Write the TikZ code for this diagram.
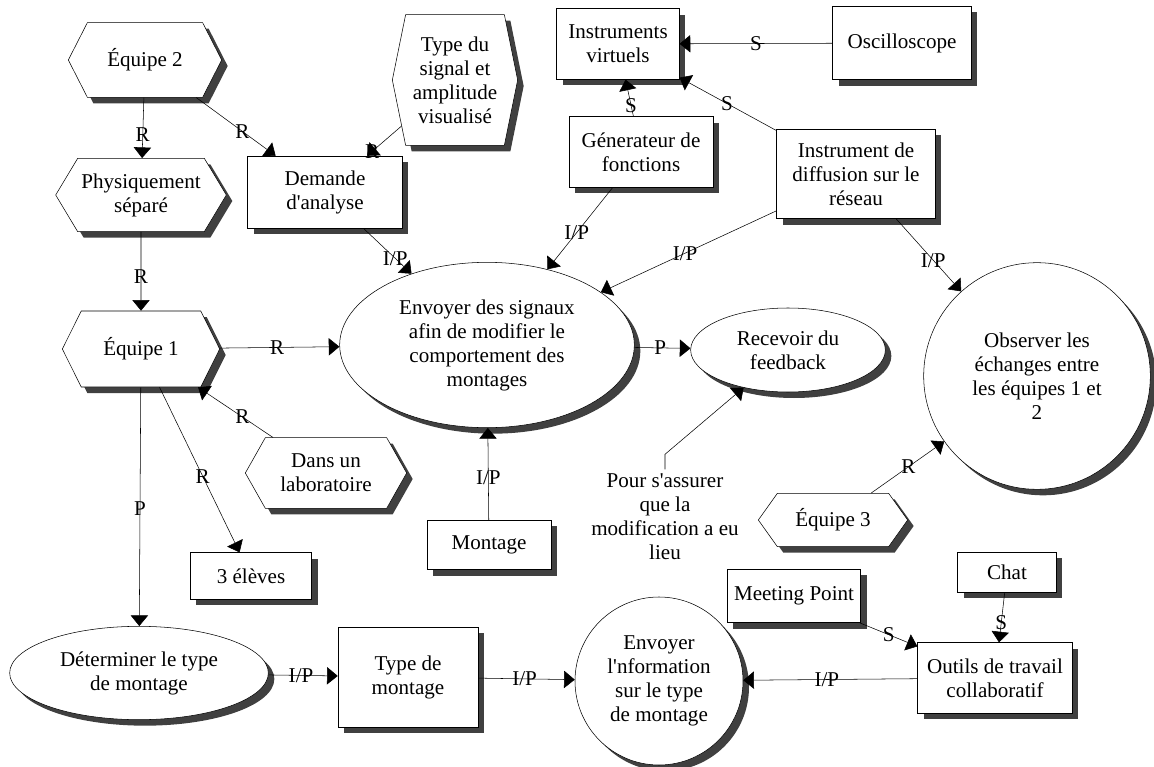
\documentclass[tikz,border=0pt]{standalone}
\usepackage{fontspec}
\setmainfont{Liberation Serif}
\usetikzlibrary{arrows.meta}
\usetikzlibrary{shapes.geometric}
\usetikzlibrary{shapes.symbols}
\usetikzlibrary{shadows}
\tikzset{>={Triangle[length=8pt,width=13pt]}, line width=0.6pt}
\tikzset{ombre/.style={drop shadow={shadow xshift=4.5pt,shadow yshift=-4.5pt,fill=black!75,opacity=1}}}

\begin{document}
\begin{tikzpicture}[x=0.75pt,y=-0.75pt,
  font=\fontsize{15.8}{18}\selectfont,
  boite/.style={rectangle,draw,fill=white,ombre,align=center,inner sep=1pt},
  hexa/.style={signal,signal to=west and east,draw,fill=white,ombre,align=center,inner sep=1pt},
  bulle/.style={ellipse,draw,fill=white,ombre,align=center,inner sep=0pt},
  rond/.style={circle,draw,fill=white,ombre,align=center,inner sep=0pt},
  etiq/.style={inner sep=0pt}]
  \useasboundingbox (0,0) rectangle (1154,767);

  % equipes et contexte
  \node[hexa,signal pointer angle=126,minimum width=115pt,minimum height=56pt] (eq2) at (145,60) {Équipe 2};
  \node[hexa,signal pointer angle=118,minimum width=128pt,minimum height=55pt] (physique) at (141,195) {Physiquement\\séparé};
  \node[hexa,signal pointer angle=127,minimum width=118pt,minimum height=57pt] (eq1) at (141,349) {Équipe 1};
  \node[hexa,signal pointer angle=121,minimum width=121pt,minimum height=53pt] (labo) at (326,473) {Dans un\\laboratoire};
  \node[hexa,signal pointer angle=157,minimum width=94pt,minimum height=98pt] (typesignal) at (455,80) {Type du\\signal et\\amplitude\\visualisé};
  \node[hexa,signal pointer angle=109,minimum width=112pt,minimum height=40pt] (eq3) at (833,520) {Équipe 3};

  % boites
  \node[boite,minimum width=116pt,minimum height=54pt] (demande) at (325,192) {Demande\\d\textquotesingle analyse};
  \node[boite,minimum width=92pt,minimum height=53pt] (virtuels) at (618,44) {Instruments\\virtuels};
  \node[boite,minimum width=104pt,minimum height=55pt] (oscillo) at (902,43) {Oscilloscope};
  \node[boite,minimum width=108pt,minimum height=53pt] (generateur) at (641,152) {Génerateur de\\fonctions};
  \node[boite,minimum width=119pt,minimum height=67pt] (diffusion) at (856,174) {Instrument de\\diffusion sur le\\réseau};
  \node[boite,minimum width=91pt,minimum height=35pt] (eleves) at (251,576) {3 élèves};
  \node[boite,minimum width=93pt,minimum height=37pt] (montage) at (489,545) {Montage};
  \node[boite,minimum width=100pt,minimum height=40pt] (meeting) at (794,596) {Meeting Point};
  \node[boite,minimum width=74pt,minimum height=30pt] (chat) at (1007,572) {Chat};
  \node[boite,minimum width=116pt,minimum height=53pt] (outils) at (995,678) {Outils de travail\\collaboratif};
  \node[boite,minimum width=105pt,minimum height=75pt] (typemontage) at (408,677) {Type de\\montage};

  % activites
  \node[bulle,minimum width=221pt,minimum height=124pt] (signaux) at (487,345) {Envoyer des signaux\\afin de modifier le\\comportement des\\montages};
  \node[bulle,minimum width=146pt,minimum height=63pt] (feedback) at (788,350) {Recevoir du\\feedback};
  \node[rond,minimum size=170pt] (observer) at (1037,376) {Observer les\\échanges entre\\les équipes 1 et\\2};
  \node[rond,minimum size=126pt] (information) at (659,681) {Envoyer\\l\textquotesingle nformation\\sur le type\\de montage};
  \node[bulle,minimum width=194pt,minimum height=70pt] (determiner) at (139,673) {Déterminer le type\\de montage};
  \node[align=center] (note) at (665,517) {Pour s\textquotesingle assurer\\que la\\modification a eu\\lieu};

  % liens
  \draw[->] (eq2) -- node[etiq,pos=.62] {R} (physique);
  \draw[->] (eq2) -- node[etiq,pos=.58] {R} (demande);
  \draw[->] (typesignal) -- node[etiq,pos=.85] {R} (demande);
  \draw[->] (physique) -- node[etiq,pos=.57] {R} (eq1);
  \draw[->] (demande) -- node[etiq,pos=.66] {I/P} (signaux);
  \draw[->] (generateur) -- node[etiq,pos=.55] {I/P} (signaux);
  \draw[->] (generateur) -- node[etiq,pos=.3] {S} (virtuels);
  \draw[->] (diffusion) -- node[etiq,pos=.51] {S} (virtuels);
  \draw[->] (oscillo) -- node[etiq,pos=.5] {S} (virtuels);
  \draw[->] (diffusion) -- node[etiq,pos=.52] {I/P} (signaux);
  \draw[->] (diffusion) -- node[etiq,pos=.57] {I/P} (observer);
  \draw[->] (eq1) -- node[etiq,pos=.48] {R} (signaux);
  \draw[->] (labo) -- node[etiq,pos=.41] {R} (eq1);
  \draw[->] (eq1) -- node[etiq,pos=.54] {R} (eleves);
  \draw[->] (eq1) -- node[etiq,pos=.51] {P} (determiner);
  \draw[->] (signaux) -- node[etiq,pos=.46] {P} (feedback);
  \draw[->] (montage) -- node[etiq,pos=.46] {I/P} (signaux);
  \draw[->] (note.north) -- ++(0,-15) -- (feedback);
  \draw[->] (eq3) -- node[etiq,pos=.51] {R} (observer);
  \draw[->] (determiner) -- node[etiq,pos=.47] {I/P} (typemontage);
  \draw[->] (typemontage) -- node[etiq,pos=.48] {I/P} (information);
  \draw[->] (outils) -- node[etiq,pos=.52] {I/P} (information);
  \draw[->] (meeting) -- node[etiq,pos=.5] {S} (outils);
  \draw[->] (chat) -- node[etiq,pos=.61] {S} (outils);
\end{tikzpicture}
\end{document}
